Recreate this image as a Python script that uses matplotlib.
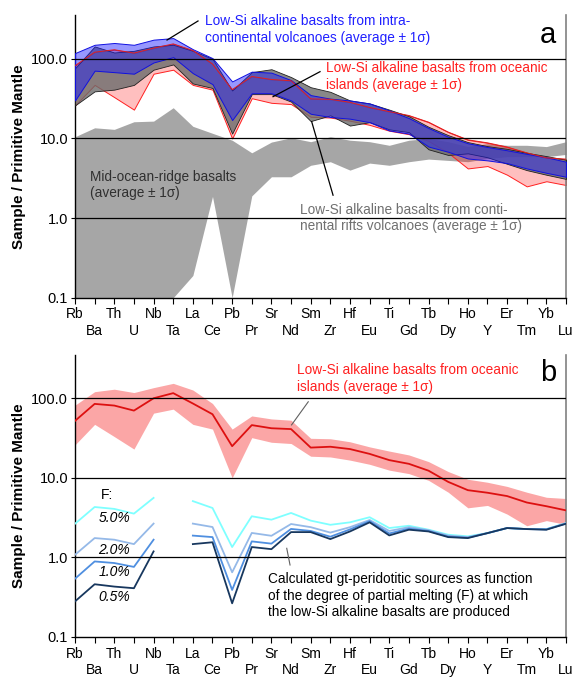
import matplotlib.pyplot as plt
import numpy as np

plt.rcParams['font.family'] = ['Liberation Sans', 'DejaVu Sans']

elements = ['Rb', 'Ba', 'Th', 'U', 'Nb', 'Ta', 'La', 'Ce', 'Pb', 'Pr', 'Sr', 'Nd', 'Sm',
            'Zr', 'Hf', 'Eu', 'Ti', 'Gd', 'Tb', 'Dy', 'Ho', 'Y', 'Er', 'Tm', 'Yb', 'Lu']

# mid-ocean-ridge basalts (average +/- 1 sigma)
morb_hi = [10.5, 13.6, 13, 16.2, 16.5, 24.3, 14.2, 11.6, 9.5, 6.6, 9.0, 10.2, 9.1,
           10.5, 9.5, 9.1, 8.2, 9.5, 10, 9.1, 7.9, 8.6, 8.2, 8.2, 7.9, 9.1]
morb_lo = [0.05, 0.05, 0.05, 0.05, 0.05, 0.1, 0.19, 1.87, 0.1, 1.9, 3.3, 3.3, 4.6,
           5.1, 4.0, 4.9, 4.6, 5.1, 5.5, 5.3, 5.1, 5.6, 5.9, 5.9, 5.9, 6.3]

# low-Si alkaline basalts, continental rifts
rift_hi = [76, 143, 120, 126, 143, 150, 126, 100, 40, 68, 74, 59, 44,
           38.5, 30, 27.5, 23, 19, 14, 11, 9, 8, 7.4, 6.6, 6.0, 5.4]
rift_lo = [26, 39, 41, 47, 73, 85, 49, 43, 11.5, 36, 36, 29, 16.5,
           19.5, 14.5, 16, 13, 12, 7.3, 6.2, 6.5, 5.8, 4.8, 4.0, 3.5, 3.1]

# low-Si alkaline basalts, oceanic islands
oib_mean = [52, 85, 81, 70, 100, 116, 86, 63, 25, 46, 42, 41, 24,
            24.6, 23, 20, 16.7, 15, 12.3, 8.9, 7.0, 6.5, 5.9, 4.9, 4.4, 3.9]
oib_hi = [82, 121, 130, 118, 136, 154, 127, 86, 41, 60, 55, 53, 31.4,
          31, 28.4, 24.5, 21.7, 19.4, 16, 12, 9.6, 8.8, 7.8, 6.6, 5.7, 5.5]
oib_lo = [26, 47, 33, 23, 65, 73, 47, 41, 10, 32, 28, 27, 18.7,
          18.3, 16.7, 14.8, 12.5, 11.3, 9.3, 6.6, 4.2, 4.5, 3.5, 2.5, 2.9, 2.6]

# low-Si alkaline basalts, intra-continental volcanoes
intra_hi = [118, 150, 158, 150, 174, 182, 132, 102, 52, 69, 67, 54, 35,
            31.6, 30, 27.5, 22.5, 18, 13.5, 10.5, 8.7, 7.8, 7.1, 6.4, 5.8, 5.1]
intra_lo = [30, 71, 68, 65, 90, 105, 66, 48, 17, 37, 37, 30, 20.4,
            18.6, 17.7, 16, 12.6, 11.5, 7.9, 6.8, 5.6, 5.3, 4.9, 4.2, 3.7, 3.3]

# calculated gt-peridotite sources, by degree of melting F
nan = np.nan
f_labels = ['5.0%', '2.0%', '1.0%', '0.5%']
f_colors = ['#7FFFFF', '#95B9E8', '#4F8FE0', '#17375E']
src_f50 = [2.65, 4.3, 4.07, 3.55, 5.6, nan, 5.1, 4.18, 1.35, 3.29, 2.98, 3.62, 2.9,
           2.57, 2.76, 3.2, 2.34, 2.5, 2.23, 1.93, 1.84, 2.02, 2.34, 2.27, 2.27, 2.7]
src_f20 = [1.08, 1.75, 1.67, 1.47, 2.66, nan, 2.66, 2.41, 0.65, 2.03, 1.87, 2.63, 2.4,
           2.05, 2.4, 2.95, 2.15, 2.4, 2.2, 1.88, 1.8, 2.02, 2.34, 2.27, 2.26, 2.68]
src_f10 = [0.54, 0.89, 0.85, 0.76, 1.67, nan, 1.88, 1.80, 0.39, 1.59, 1.49, 2.28, 2.15,
           1.82, 2.25, 2.85, 2.0, 2.3, 2.15, 1.83, 1.77, 2.02, 2.34, 2.27, 2.25, 2.67]
src_f05 = [0.28, 0.46, 0.43, 0.41, 1.19, nan, 1.47, 1.55, 0.265, 1.35, 1.27, 2.08, 2.08,
           1.70, 2.12, 2.76, 1.89, 2.23, 2.12, 1.80, 1.75, 2.02, 2.34, 2.27, 2.23, 2.65]
sources = [src_f50, src_f20, src_f10, src_f05]

x = np.arange(len(elements))

fig = plt.figure(figsize=(5.77, 6.82), dpi=100)
ax1 = fig.add_axes([0.130, 0.5635, 0.851, 0.4138])
ax2 = fig.add_axes([0.130, 0.066, 0.851, 0.4135])


def setup(ax):
    ax.set_yscale('log')
    ax.set_xlim(0, 25)
    ax.set_ylim(0.1, 350)
    for v in [1, 10, 100]:
        ax.axhline(v, color='black', lw=0.9, zorder=6)
    ax.set_yticks([0.1, 1, 10, 100])
    ax.set_yticklabels(['0.1', '1.0', '10.0', '100.0'], fontsize=10.5)
    ax.minorticks_off()
    ax.set_xticks(x)
    ax.set_xticklabels([e if i % 2 == 0 else '\n' + e for i, e in enumerate(elements)],
                       fontsize=10, linespacing=1.25)
    ax.tick_params(axis='x', direction='out', length=4, width=0.8, pad=3)
    ax.tick_params(axis='y', direction='out', length=3, width=0.8, pad=2)
    ax.spines['top'].set_visible(False)
    ax.spines['right'].set_color('#808080')
    ax.spines['right'].set_linewidth(1.2)
    ax.spines['left'].set_linewidth(1.0)
    ax.spines['bottom'].set_linewidth(1.0)
    ax.set_ylabel('Sample / Primitive Mantle', fontsize=11, fontweight='bold', labelpad=4)


setup(ax1)
setup(ax2)

# panel a
ax1.fill_between(x, morb_lo, morb_hi, color='#A6A6A6', lw=0, zorder=1)
ax1.fill_between(x, oib_lo, oib_hi, facecolor=(1, 0, 0, 0.25), edgecolor='#FF2020', lw=0.7, zorder=2)
ax1.fill_between(x, rift_lo, rift_hi, facecolor=(0.42, 0.42, 0.42, 0.8), edgecolor='#202020', lw=0.6, zorder=3)
ax1.fill_between(x, intra_lo, intra_hi, facecolor=(0.1, 0.1, 1.0, 0.45), edgecolor='#1010E0', lw=0.7, zorder=4)
ax1.plot(x, oib_hi, color='#E02020', lw=0.7, zorder=5)

ax1.text(0.265, 0.950, 'Low-Si alkaline basalts from intra-\ncontinental volcanoes (average ± 1σ)',
         transform=ax1.transAxes, color='#2020FF', fontsize=9.8, va='center', linespacing=1.2)
ax1.plot([0.2505, 0.1874], [0.9805, 0.913], transform=ax1.transAxes, color='black', lw=0.9,
         clip_on=False, zorder=7)
ax1.text(0.511, 0.784, 'Low-Si alkaline basalts from oceanic\nislands (average ± 1σ)',
         transform=ax1.transAxes, color='#FF2020', fontsize=9.8, va='center', linespacing=1.2)
ax1.plot([0.499, 0.4033], [0.8009, 0.7123], transform=ax1.transAxes, color='black', lw=0.9, zorder=7)
ax1.text(0.0305, 0.398, 'Mid-ocean-ridge basalts\n(average ± 1σ)', transform=ax1.transAxes,
         color='#303030', fontsize=9.8, va='center', linespacing=1.2, zorder=7)
ax1.text(0.458, 0.281, 'Low-Si alkaline basalts from conti-\nnental rifts volcanoes (average ± 1σ)',
         transform=ax1.transAxes, color='#707070', fontsize=9.8, va='center', linespacing=1.2, zorder=7)
ax1.plot([0.5255, 0.482], [0.3632, 0.6237], transform=ax1.transAxes, color='black', lw=0.9, zorder=7)
ax1.text(0.963, 0.931, 'a', transform=ax1.transAxes, fontsize=21, ha='center', va='center')

# panel b
ax2.fill_between(x, oib_lo, oib_hi, color='#FBA6A6', lw=0, zorder=1)
ax2.plot(x, oib_mean, color='#DD1010', lw=1.3, zorder=3)
for vals, c in zip(sources, f_colors):
    ax2.plot(x, vals, color=c, lw=1.3, zorder=4)

ax2.text(0.452, 0.9167, 'Low-Si alkaline basalts from oceanic\nislands (average ± 1σ)',
         transform=ax2.transAxes, color='#FF2020', fontsize=9.8, va='center', linespacing=1.2)
ax2.plot([0.475, 0.441], [0.834, 0.752], transform=ax2.transAxes, color='#606060', lw=0.8, zorder=7)
ax2.text(0.963, 0.936, 'b', transform=ax2.transAxes, fontsize=21, ha='center', va='center')
ax2.text(0.393, 0.1465, 'Calculated gt-peridotitic sources as function\nof the degree of partial melting (F) at which\n'
         'the low-Si alkaline basalts are produced', transform=ax2.transAxes, color='black',
         fontsize=9.8, va='center', linespacing=1.2)
ax2.plot([0.4312, 0.4379], [0.3145, 0.2553], transform=ax2.transAxes, color='#606060', lw=0.8, zorder=7)
ax2.text(0.053, 0.5035, 'F:', transform=ax2.transAxes, fontsize=10, va='center')
for lab, yf in zip(f_labels, [0.421, 0.3085, 0.2316, 0.1429]):
    ax2.text(0.0475, yf, lab, transform=ax2.transAxes, fontsize=10, style='italic', va='center', zorder=7)

fig.savefig('out.png', dpi=100)
